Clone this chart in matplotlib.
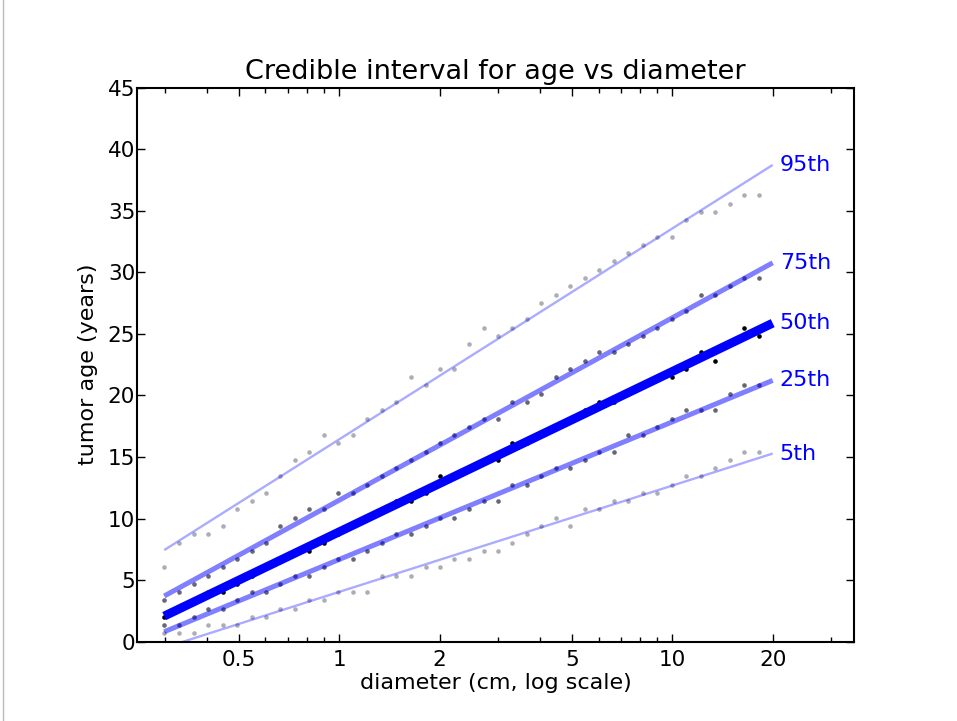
import matplotlib
matplotlib.use("Agg")

import matplotlib.pyplot as plt
from matplotlib.lines import Line2D
from matplotlib.ticker import FixedLocator, FixedFormatter, NullFormatter


# -----------------------------
# DATA
# -----------------------------

diameters = [0.298, 0.330, 0.365, 0.403, 0.446, 0.493, 0.545, 0.602, 0.665, 0.736,
             0.813, 0.899, 0.994, 1.099, 1.214, 1.343, 1.484, 1.641, 1.814, 2.005,
             2.216, 2.450, 2.709, 2.990, 3.305, 3.653, 4.038, 4.464, 4.935,
             5.456, 6.031, 6.667, 7.370, 8.148, 9.007, 9.956, 11.01, 12.17, 13.45,
             14.87, 16.44, 18.17]

age_p95 = [6.04, 8.05, 8.73, 8.73, 9.40, 10.74, 11.41, 12.08, 13.42, 14.77,
           15.44, 16.78, 16.11, 16.78, 18.12, 18.79, 19.46, 21.48, 20.81, 22.15,
           22.15, 24.16, 25.51, 24.83, 25.51, 26.18, 27.52, 28.19, 28.86,
           29.53, 30.20, 30.88, 31.55, 32.22, 32.89, 32.89, 34.23, 34.90, 34.90,
           35.57, 36.25, 36.25]

age_p75 = [3.36, 4.03, 4.70, 5.37, 6.04, 6.71, 7.38, 8.05, 9.40, 10.07,
           10.74, 10.74, 12.08, 12.08, 12.75, 13.42, 14.10, 14.77, 15.44, 16.11,
           16.78, 17.45, 18.12, 18.12, 19.46, 19.46, 20.14, 21.48, 22.15,
           22.82, 23.49, 23.49, 24.16, 24.83, 25.51, 26.18, 26.85, 28.19, 28.19,
           28.86, 29.53, 29.53]

age_p50 = [2.01, 2.68, 3.36, 4.03, 4.03, 4.70, 5.37, 6.04, 6.71, 7.38,
           7.38, 8.05, 8.73, 9.40, 10.07, 10.74, 11.41, 11.41, 12.08, 13.42,
           13.42, 14.10, 14.77, 14.77, 16.11, 16.11, 16.78, 17.45, 18.12,
           18.79, 19.46, 19.46, 20.14, 20.81, 21.48, 21.48, 22.15, 23.49, 22.82,
           24.16, 25.51, 24.83]

age_p25 = [1.34, 1.34, 2.01, 2.68, 2.68, 3.36, 4.03, 4.03, 4.70, 5.37,
           5.37, 6.04, 6.71, 6.71, 7.38, 8.05, 8.73, 8.73, 9.40, 10.07,
           10.07, 10.74, 11.41, 11.41, 12.75, 12.75, 13.42, 14.10, 14.10,
           14.77, 15.44, 15.44, 16.78, 16.78, 17.45, 18.12, 18.79, 18.79, 18.79,
           20.14, 20.81, 20.81]

age_p5 = [0.67, 0.67, 0.67, 1.34, 1.34, 1.34, 2.01, 2.01, 2.68, 2.68,
          3.36, 3.36, 4.03, 4.03, 4.03, 5.37, 5.37, 5.37, 6.04, 6.04,
          6.71, 6.71, 7.38, 7.38, 8.05, 8.73, 9.40, 10.07, 9.40,
          10.74, 10.74, 11.41, 11.41, 12.08, 12.08, 12.75, 13.42, 13.42, 14.10,
          14.77, 15.44, 15.44]

# fitted lines: value at first diameter and at 20 cm
fit_x = [0.298, 20.0]
fit_p95 = [7.44, 38.72]
fit_p75 = [3.71, 30.77]
fit_p50 = [2.08, 25.87]
fit_p25 = [0.81, 21.22]
fit_p5 = [-0.49, 15.28]

labels = ["95th", "75th", "50th", "25th", "5th"]

x_major = [0.5, 1, 2, 5, 10, 20]
x_major_labels = ["0.5", "1", "2", "5", "10", "20"]
x_minor = [0.3, 0.4, 0.6, 0.7, 0.8, 0.9, 3, 4, 6, 7, 8, 9, 30]


# -----------------------------
# PLOT
# -----------------------------

fig = plt.figure(figsize=(9.57, 7.21), dpi=100)
ax = fig.add_axes([0.1435, 0.110, 0.7485, 0.7685])

# thin grey frame line at the left edge of the picture
fig.add_artist(Line2D([0.003, 0.003], [0, 1], transform=fig.transFigure,
                      color="#bbbbbb", linewidth=1))

series = [
    (age_p95, fit_p95, (0.68, 0.68, 0.72), 0.33, 1.7),
    (age_p75, fit_p75, (0.40, 0.40, 0.46), 0.5, 3.6),
    (age_p50, fit_p50, (0.0, 0.0, 0.0), 1.0, 6.4),
    (age_p25, fit_p25, (0.40, 0.40, 0.46), 0.5, 3.6),
    (age_p5, fit_p5, (0.68, 0.68, 0.72), 0.33, 1.7),
]

for (ages, fit, dot_color, alpha, lw), lab in zip(series, labels):
    ax.plot(diameters, ages, "o", color=dot_color, markersize=3.3,
            markeredgewidth=0, zorder=1)
    ax.plot(fit_x, fit, "-", color="blue", alpha=alpha, linewidth=lw,
            solid_capstyle="butt", zorder=2)
    ax.text(fit_x[1] * 1.05, fit[1], lab, color="blue", fontsize=16,
            ha="left", va="center")

ax.set_xscale("log")
ax.set_xlim(0.2474, 35.0)
ax.set_ylim(0, 45)

ax.xaxis.set_major_locator(FixedLocator(x_major))
ax.xaxis.set_major_formatter(FixedFormatter(x_major_labels))
ax.xaxis.set_minor_locator(FixedLocator(x_minor))
ax.xaxis.set_minor_formatter(NullFormatter())
ax.set_yticks(range(0, 46, 5))

ax.tick_params(axis="both", which="both", direction="in",
               top=True, right=True, labelsize=15.5)
ax.tick_params(axis="both", which="major", length=6, width=1)
ax.tick_params(axis="x", which="minor", length=3.5, width=1)
ax.tick_params(axis="x", which="major", pad=6)
ax.tick_params(axis="y", which="major", pad=1.5)

for s in ax.spines.values():
    s.set_linewidth(1.5)

ax.set_title("Credible interval for age vs diameter", fontsize=19.5, pad=6)
ax.set_xlabel("diameter (cm, log scale)", fontsize=16, labelpad=2)
ax.set_ylabel("tumor age (years)", fontsize=16, labelpad=7)

plt.savefig("out.png", dpi=100)
plt.close()
